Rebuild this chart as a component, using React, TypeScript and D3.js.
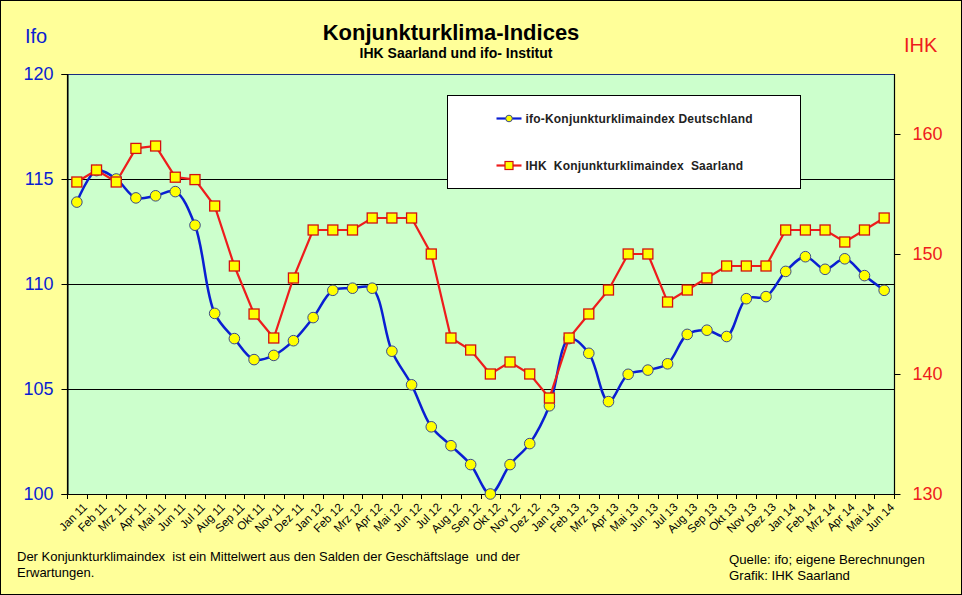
import React, { useEffect, useRef } from 'react'
import * as d3 from 'd3'

const months = [
  'Jan 11', 'Feb 11', 'Mrz 11', 'Apr 11', 'Mai 11', 'Jun 11', 'Jul 11', 'Aug 11', 'Sep 11', 'Okt 11', 'Nov 11', 'Dez 11',
  'Jan 12', 'Feb 12', 'Mrz 12', 'Apr 12', 'Mai 12', 'Jun 12', 'Jul 12', 'Aug 12', 'Sep 12', 'Okt 12', 'Nov 12', 'Dez 12',
  'Jan 13', 'Feb 13', 'Mrz 13', 'Apr 13', 'Mai 13', 'Jun 13', 'Jul 13', 'Aug 13', 'Sep 13', 'Okt 13', 'Nov 13', 'Dez 13',
  'Jan 14', 'Feb 14', 'Mrz 14', 'Apr 14', 'Mai 14', 'Jun 14',
]

// ifo-Konjunkturklimaindex Deutschland (left axis)
const ifoValues = [
  113.9, 115.4, 115.0, 114.1, 114.2, 114.4, 112.8, 108.6, 107.4, 106.4, 106.6, 107.3,
  108.4, 109.7, 109.8, 109.8, 106.8, 105.2, 103.2, 102.3, 101.4, 100.0, 101.4, 102.4,
  104.2, 107.4, 106.7, 104.4, 105.7, 105.9, 106.2, 107.6, 107.8, 107.5, 109.3, 109.4,
  110.6, 111.3, 110.7, 111.2, 110.4, 109.7,
]

// IHK Konjunkturklimaindex Saarland (right axis)
const ihkValues = [
  156, 157, 156, 158.8, 159, 156.4, 156.2, 154, 149, 145, 143, 148,
  152, 152, 152, 153, 153, 153, 150, 143, 142, 140, 141, 140,
  138, 143, 145, 147, 150, 150, 146, 147, 148, 149, 149, 149,
  152, 152, 152, 151, 152, 153,
]

const leftTicks = [100, 105, 110, 115, 120]
const rightTicks = [130, 140, 150, 160]
const gridValues = [105, 110, 115]

const title = 'Konjunkturklima-Indices'
const subtitle = 'IHK Saarland und ifo- Institut'
const noteLines = [
  'Der Konjunkturklimaindex  ist ein Mittelwert aus den Salden der Geschäftslage  und der',
  'Erwartungen.',
]
const sourceLines = ['Quelle: ifo; eigene Berechnungen', 'Grafik: IHK Saarland']
const legendLabels = ['ifo-Konjunkturklimaindex Deutschland', 'IHK  Konjunkturklimaindex  Saarland']

const W = 962
const H = 595
const BLUE = '#0a1ed2'
const RED = '#ee1c1c'
const FONT = 'Arial, "Liberation Sans", sans-serif'

export default function App() {
  const ref = useRef<SVGSVGElement>(null)

  useEffect(() => {
    if (!ref.current) return
    const svg = d3.select(ref.current)
    svg.selectAll('*').remove()

    const plot = { left: 67, right: 894, top: 74, bottom: 494 }

    svg.append('rect').attr('x', 0.5).attr('y', 0.5).attr('width', W - 1).attr('height', H - 1)
      .attr('fill', '#ffff99').attr('stroke', '#000').attr('stroke-width', 1)

    const x = d3.scaleBand<string>().domain(months).range([plot.left, plot.right])
    const cx = (m: string) => (x(m) || 0) + x.bandwidth() / 2
    const yL = d3.scaleLinear().domain([100, 120]).range([plot.bottom, plot.top])
    const yR = d3.scaleLinear().domain([130, 165]).range([plot.bottom, plot.top])

    svg.append('rect')
      .attr('x', plot.left).attr('y', plot.top)
      .attr('width', plot.right - plot.left).attr('height', plot.bottom - plot.top)
      .attr('fill', '#ccffcc')

    svg.append('g').selectAll('line').data(gridValues).join('line')
      .attr('x1', plot.left).attr('x2', plot.right)
      .attr('y1', (d) => Math.round(yL(d)) + 0.5).attr('y2', (d) => Math.round(yL(d)) + 0.5)
      .attr('stroke', '#000').attr('stroke-width', 1)

    // plot border
    svg.append('line').attr('x1', plot.left).attr('x2', plot.right).attr('y1', plot.top + 0.5).attr('y2', plot.top + 0.5)
      .attr('stroke', '#1a2a80').attr('stroke-width', 1.2)
    svg.append('line').attr('x1', plot.left + 0.5).attr('x2', plot.left + 0.5).attr('y1', plot.top).attr('y2', plot.bottom)
      .attr('stroke', '#000').attr('stroke-width', 1.2)
    svg.append('line').attr('x1', plot.right + 0.5).attr('x2', plot.right + 0.5).attr('y1', plot.top).attr('y2', plot.bottom)
      .attr('stroke', '#000').attr('stroke-width', 1.2)

    // left axis
    const gl = svg.append('g').attr('transform', `translate(${plot.left + 0.5},0)`)
      .call(d3.axisLeft(yL).tickValues(leftTicks).tickSize(6).tickPadding(8).tickFormat(d3.format('d')))
    gl.select('.domain').attr('stroke', '#000')
    gl.selectAll('.tick line').attr('stroke', '#000')
    gl.selectAll('.tick text').attr('fill', BLUE).attr('font-size', 18).attr('font-family', FONT)

    // right axis
    const gr = svg.append('g').attr('transform', `translate(${plot.right + 0.5},0)`)
      .call(d3.axisRight(yR).tickValues(rightTicks).tickSize(6).tickPadding(12).tickFormat(d3.format('d')))
    gr.select('.domain').remove()
    gr.selectAll('.tick line').attr('stroke', '#000')
    gr.selectAll('.tick text').attr('fill', RED).attr('font-size', 18).attr('font-family', FONT)

    // bottom axis: ticks at category boundaries
    svg.append('line').attr('x1', plot.left).attr('x2', plot.right + 1)
      .attr('y1', plot.bottom + 0.5).attr('y2', plot.bottom + 0.5).attr('stroke', '#000').attr('stroke-width', 1.2)
    const bounds = months.map((m) => x(m) || 0).concat([plot.right])
    svg.append('g').selectAll('line').data(bounds).join('line')
      .attr('x1', (d) => Math.round(d) + 0.5).attr('x2', (d) => Math.round(d) + 0.5)
      .attr('y1', plot.bottom).attr('y2', plot.bottom + 5)
      .attr('stroke', '#000')
    svg.append('g').selectAll('text').data(months).join('text')
      .attr('transform', (d) => `translate(${cx(d) + 8},${plot.bottom + 11}) rotate(-45)`)
      .attr('text-anchor', 'end')
      .attr('dy', '0.35em')
      .attr('font-size', 11.5)
      .attr('font-family', FONT)
      .attr('fill', '#000')
      .text((d) => d)

    // series
    const ifoLine = d3.line<number>()
      .x((_, i) => cx(months[i]))
      .y((d) => yL(d))
      .curve(d3.curveCatmullRom.alpha(0.5))
    const ihkLine = d3.line<number>()
      .x((_, i) => cx(months[i]))
      .y((d) => yR(d))

    svg.append('path').datum(ifoValues).attr('d', ifoLine)
      .attr('fill', 'none').attr('stroke', BLUE).attr('stroke-width', 2.5)
    svg.append('path').datum(ihkValues).attr('d', ihkLine)
      .attr('fill', 'none').attr('stroke', RED).attr('stroke-width', 2.2)

    svg.append('g').selectAll('circle').data(ifoValues).join('circle')
      .attr('cx', (_, i) => cx(months[i])).attr('cy', (d) => yL(d)).attr('r', 5.3)
      .attr('fill', '#ffff00').attr('stroke', '#3a4a8a').attr('stroke-width', 1)
    svg.append('g').selectAll('rect').data(ihkValues).join('rect')
      .attr('x', (_, i) => cx(months[i]) - 5).attr('y', (d) => yR(d) - 5)
      .attr('width', 10).attr('height', 10)
      .attr('fill', '#ffff00').attr('stroke', '#d41010').attr('stroke-width', 1.3)

    // legend
    const lg = svg.append('g').attr('transform', 'translate(447.5,95.5)')
    lg.append('rect').attr('width', 353).attr('height', 93).attr('fill', '#fff').attr('stroke', '#000')
    const rows = [
      { y: 23, color: BLUE, marker: 'circle' },
      { y: 70, color: RED, marker: 'square' },
    ]
    rows.forEach((r, i) => {
      lg.append('line').attr('x1', 49).attr('x2', 74).attr('y1', r.y).attr('y2', r.y)
        .attr('stroke', r.color).attr('stroke-width', 2.2)
      if (r.marker === 'circle') {
        lg.append('circle').attr('cx', 61.5).attr('cy', r.y).attr('r', 3.3)
          .attr('fill', '#ffff00').attr('stroke', '#3a4a8a')
      } else {
        lg.append('rect').attr('x', 57.5).attr('y', r.y - 4).attr('width', 8).attr('height', 8)
          .attr('fill', '#ffff00').attr('stroke', '#d41010').attr('stroke-width', 1.2)
      }
      lg.append('text').attr('x', 78).attr('y', r.y).attr('dy', '0.35em')
        .attr('font-size', 12).attr('font-weight', 'bold').attr('font-family', FONT)
        .attr('letter-spacing', 0.2).attr('fill', '#222')
        .style('white-space', 'pre')
        .text(legendLabels[i])
    })

    // titles
    svg.append('text').attr('x', 451).attr('y', 40).attr('text-anchor', 'middle')
      .attr('font-size', 22).attr('font-weight', 'bold').attr('font-family', FONT).text(title)
    svg.append('text').attr('x', 456).attr('y', 58).attr('text-anchor', 'middle')
      .attr('font-size', 14).attr('font-weight', 'bold').attr('font-family', FONT).text(subtitle)
    svg.append('text').attr('x', 25).attr('y', 43).attr('font-size', 20).attr('font-family', FONT)
      .attr('fill', BLUE).text('Ifo')
    svg.append('text').attr('x', 904).attr('y', 52).attr('font-size', 20).attr('font-family', FONT)
      .attr('fill', RED).text('IHK')

    // footnotes
    svg.append('g').selectAll('text').data(noteLines).join('text')
      .attr('x', 17).attr('y', (_, i) => 561 + i * 16)
      .attr('font-size', 13).attr('font-family', FONT).style('white-space', 'pre').text((d) => d)
    svg.append('g').selectAll('text').data(sourceLines).join('text')
      .attr('x', 729).attr('y', (_, i) => 564 + i * 16)
      .attr('font-size', 13.2).attr('font-family', FONT).style('white-space', 'pre').text((d) => d)
  }, [])

  return (
    <svg
      ref={ref}
      width={W}
      height={H}
      style={{ position: 'absolute', left: 0, top: 0, display: 'block' }}
    />
  )
}
